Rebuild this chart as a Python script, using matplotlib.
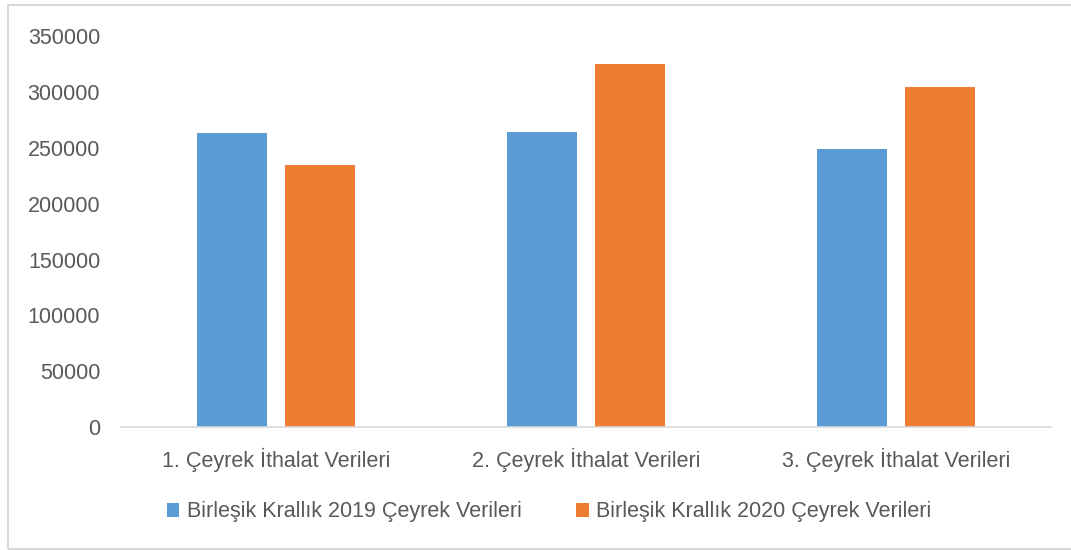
import matplotlib.pyplot as plt
import numpy as np
from matplotlib.patches import Rectangle

categories = ['1. Çeyrek İthalat Verileri', '2. Çeyrek İthalat Verileri',
              '3. Çeyrek İthalat Verileri']
series_names = ['Birleşik Krallık 2019 Çeyrek Verileri',
                'Birleşik Krallık 2020 Çeyrek Verileri']
values_2019 = [263000, 264000, 249000]
values_2020 = [234500, 325000, 304500]
y_ticks = [0, 50000, 100000, 150000, 200000, 250000, 300000, 350000]

BLUE = '#5B9BD5'
ORANGE = '#ED7D31'
TEXT = '#595959'

plt.rcParams['font.family'] = ['Liberation Sans', 'DejaVu Sans']

fig = plt.figure(figsize=(10.71, 5.5), dpi=100)
ax = fig.add_axes([121 / 1071, 1 - 427 / 550, 930 / 1071, 390.6 / 550])

x = np.arange(len(categories))
width = 0.226
offset = 0.142
ax.bar(x - offset, values_2019, width, color=BLUE, label=series_names[0])
ax.bar(x + offset, values_2020, width, color=ORANGE, label=series_names[1])

ax.set_xlim(-0.5, 2.5)
ax.set_ylim(0, 350000)
ax.set_yticks(y_ticks)
ax.set_yticklabels([str(v) for v in y_ticks], fontsize=15.5, color=TEXT)
ax.set_xticks(x)
ax.set_xticklabels(categories, fontsize=15.5, color=TEXT)
ax.tick_params(axis='y', length=0, pad=15)
ax.tick_params(axis='x', length=0, pad=15)

for side in ['top', 'right', 'left']:
    ax.spines[side].set_visible(False)
ax.spines['bottom'].set_color('#D9D9D9')
ax.spines['bottom'].set_linewidth(1.2)

leg = fig.legend(loc='center', bbox_to_anchor=(549 / 1071, 1 - 512 / 550),
                 ncol=2, frameon=False, fontsize=15.5, handlelength=0.6,
                 handleheight=0.6, handletextpad=0.35, columnspacing=2.5)
for t in leg.get_texts():
    t.set_color(TEXT)

# outer chart frame
fig.patches.append(Rectangle((8 / 1071, 1 / 550), 1.1, 544 / 550,
                             transform=fig.transFigure, fill=False,
                             edgecolor='#D9D9D9', linewidth=1.5))

fig.savefig('out.png', dpi=100)
